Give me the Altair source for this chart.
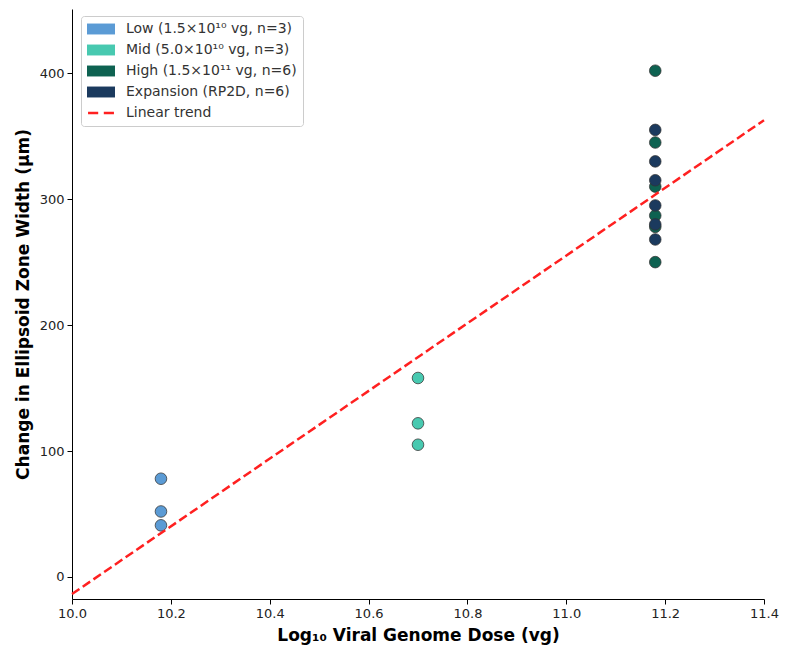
import altair as alt
import pandas as pd

groups = ["Low (1.5×10¹⁰ vg, n=3)", "Mid (5.0×10¹⁰ vg, n=3)",
          "High (1.5×10¹¹ vg, n=6)", "Expansion (RP2D, n=6)"]
trend_label = "Linear trend"
colors = ["#5B9BD5", "#48C9B0", "#0E6251", "#1B3A5E"]

low_dose = [10.18, 10.18, 10.18]
low_vals = [78, 52, 41]
mid_dose = [10.70, 10.70, 10.70]
mid_vals = [158, 122, 105]
high_dose = [11.18] * 6
high_vals = [402, 345, 310, 287, 278, 250]
exp_dose = [11.18] * 6
exp_vals = [355, 330, 315, 295, 280, 268]

x_ticks = [10.0, 10.2, 10.4, 10.6, 10.8, 11.0, 11.2, 11.4]
y_ticks = [0, 100, 200, 300, 400]

rows = []
for g, xs, ys in zip(groups, [low_dose, mid_dose, high_dose, exp_dose],
                     [low_vals, mid_vals, high_vals, exp_vals]):
    for xv, yv in zip(xs, ys):
        rows.append({"group": g, "dose": xv, "width": yv})
df = pd.DataFrame(rows)

legend_domain = groups + [trend_label]
legend_colors = colors + ["#FF2020"]
rect = "M-2,-0.78H2V0.78H-2Z"
dash = "M-1.85,-0.17H-0.4V0.17H-1.85Z M0.4,-0.17H1.85V0.17H0.4Z"
legend_shapes = [rect, rect, rect, rect, dash]

xscale = alt.Scale(domain=[10.0, 11.4], nice=False, zero=False)
yscale = alt.Scale(domain=[-17.5, 451], nice=False, zero=False)

xaxis = alt.Axis(title="Log₁₀ Viral Genome Dose (vg)", values=x_ticks, format=".1f",
                 grid=False, labelFlush=False)
yaxis = alt.Axis(title="Change in Ellipsoid Zone Width (μm)", values=y_ticks, grid=False)

color_scale = alt.Scale(domain=legend_domain, range=legend_colors)

points = alt.Chart(df).mark_point(
    filled=True, shape="circle", size=135, opacity=1,
    stroke="#333333", strokeWidth=1, strokeOpacity=0.75
).encode(
    x=alt.X("dose:Q", scale=xscale, axis=xaxis),
    y=alt.Y("width:Q", scale=yscale, axis=yaxis),
    color=alt.Color("group:N", scale=color_scale, legend=None),
)

legend_opts = dict(title=None, orient="none", legendX=9, legendY=7,
                   labelFontSize=14, labelFont="DejaVu Sans", labelLimit=400,
                   labelColor="#333333", padding=6,
                   strokeColor="#cccccc", fillColor="white",
                   cornerRadius=3, rowPadding=7, symbolSize=196,
                   symbolOffset=7, labelOffset=18,
                   symbolStrokeWidth=0)

legend_layer = alt.Chart(df).transform_filter("false").mark_point(
    filled=True, opacity=1
).encode(
    x=alt.X("dose:Q", scale=xscale),
    y=alt.Y("width:Q", scale=yscale),
    color=alt.Color("group:N", scale=color_scale, legend=alt.Legend(**legend_opts)),
    shape=alt.Shape("group:N", scale=alt.Scale(domain=legend_domain, range=legend_shapes),
                    legend=alt.Legend(**legend_opts)),
)

trend = alt.Chart(df).transform_regression(
    "dose", "width", extent=[10.0, 11.4]
).mark_line(color="#FF2020", strokeWidth=2.5, strokeDash=[9, 4]).encode(
    x=alt.X("dose:Q", scale=xscale),
    y=alt.Y("width:Q", scale=yscale),
)

chart = alt.layer(legend_layer, points, trend).properties(
    width=692, height=590,
    autosize=alt.AutoSizeParams(type="none"),
    padding={"left": 64, "top": 1, "right": 16, "bottom": 50},
).configure_view(stroke=None).configure_axis(
    domainColor="#000000", tickColor="#000000", domainWidth=1, tickWidth=1, tickSize=5,
    labelFont="DejaVu Sans", labelFontSize=13, labelColor="#222222", labelPadding=3,
    titleFont="DejaVu Sans", titleFontSize=17, titleFontWeight="bold", titleColor="#000000",
    titlePadding=7,
)

chart.save("out.html", embed_options={"renderer": "svg", "actions": False})
